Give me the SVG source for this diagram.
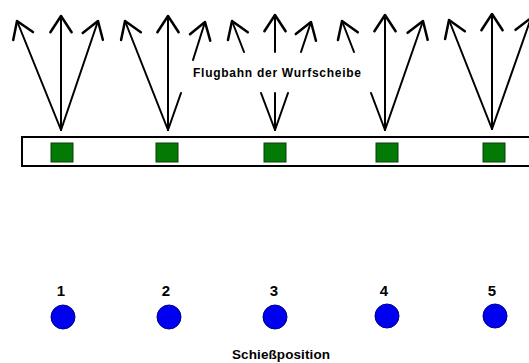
<svg xmlns="http://www.w3.org/2000/svg" width="529" height="363" viewBox="0 0 529 363">
<style>
.ln{stroke:#000;stroke-width:2;fill:none;stroke-linecap:round}
.ar{marker-end:url(#head)}
.sq{fill:#037a03;stroke:#0b3d0b;stroke-width:1}
.ci{fill:#0000f0;stroke:#00008a;stroke-width:1}
.t{font-family:"Liberation Sans",Arial,sans-serif;font-weight:bold;fill:#000}
.num{font-size:15px;text-anchor:middle}
</style>
<defs>
<marker id="head" markerUnits="userSpaceOnUse" markerWidth="30" markerHeight="30" viewBox="-16 -12 20 24" refX="0" refY="0" orient="auto" overflow="visible">
<path d="M-13,-8.5 L0,0 L-13,8.5" fill="none" stroke="#000" stroke-width="2" stroke-linecap="round" stroke-linejoin="round"/>
</marker>
</defs>
<rect width="529" height="363" fill="#fff"/>
<g id="box">
<rect x="22" y="137" width="520" height="29" fill="#fff" stroke="#000" stroke-width="2"/>
</g>
<g id="connectors">
<line class="ln ar" x1="61" y1="130" x2="17" y2="21"/>
<line class="ln ar" x1="61" y1="130" x2="61" y2="16"/>
<line class="ln ar" x1="61" y1="130" x2="98" y2="21"/>
<line class="ln ar" x1="168" y1="130" x2="125" y2="21"/>
<line class="ln ar" x1="168" y1="130" x2="168" y2="16"/>
<line class="ln" x1="168" y1="130" x2="181" y2="93"/>
<line class="ln ar" x1="193" y1="60" x2="205" y2="22"/>
<line class="ln" x1="275" y1="130" x2="261" y2="93"/>
<line class="ln ar" x1="244" y1="52" x2="232" y2="21"/>
<line class="ln" x1="275" y1="130" x2="275" y2="93"/>
<line class="ln ar" x1="275" y1="52" x2="275" y2="15"/>
<line class="ln" x1="275" y1="130" x2="288" y2="93"/>
<line class="ln ar" x1="301" y1="52" x2="311" y2="22"/>
<line class="ln" x1="385" y1="130" x2="371" y2="93"/>
<line class="ln ar" x1="354" y1="52" x2="342" y2="21"/>
<line class="ln ar" x1="385" y1="130" x2="385" y2="15"/>
<line class="ln ar" x1="385" y1="130" x2="423" y2="21"/>
<line class="ln ar" x1="492" y1="129" x2="449" y2="20"/>
<line class="ln ar" x1="492" y1="129" x2="492" y2="14"/>
<line class="ln ar" x1="492" y1="129" x2="531" y2="18"/>
</g>
<g id="label-flugbahn">
<text class="t" x="193" y="77" font-size="12" textLength="168" lengthAdjust="spacing">Flugbahn der Wurfscheibe</text>
</g>
<g id="target-1"><rect class="sq" x="51" y="143" width="22" height="19"/></g>
<g id="target-2"><rect class="sq" x="156" y="143" width="22" height="19"/></g>
<g id="target-3"><rect class="sq" x="264" y="143" width="22" height="19"/></g>
<g id="target-4"><rect class="sq" x="376" y="143" width="22" height="19"/></g>
<g id="target-5"><rect class="sq" x="483" y="143" width="22" height="19"/></g>
<g id="pos-1"><circle class="ci" cx="63" cy="317" r="12"/><text class="t num" x="61" y="296">1</text></g>
<g id="pos-2"><circle class="ci" cx="169" cy="317" r="12"/><text class="t num" x="166" y="296">2</text></g>
<g id="pos-3"><circle class="ci" cx="275" cy="317" r="12"/><text class="t num" x="274" y="296">3</text></g>
<g id="pos-4"><circle class="ci" cx="387" cy="316" r="12"/><text class="t num" x="384" y="296">4</text></g>
<g id="pos-5"><circle class="ci" cx="495" cy="316" r="12"/><text class="t num" x="492" y="296">5</text></g>
<g id="label-schiessposition">
<text class="t" x="232" y="359" font-size="13.5" textLength="98" lengthAdjust="spacing">Schießposition</text>
</g>
</svg>
